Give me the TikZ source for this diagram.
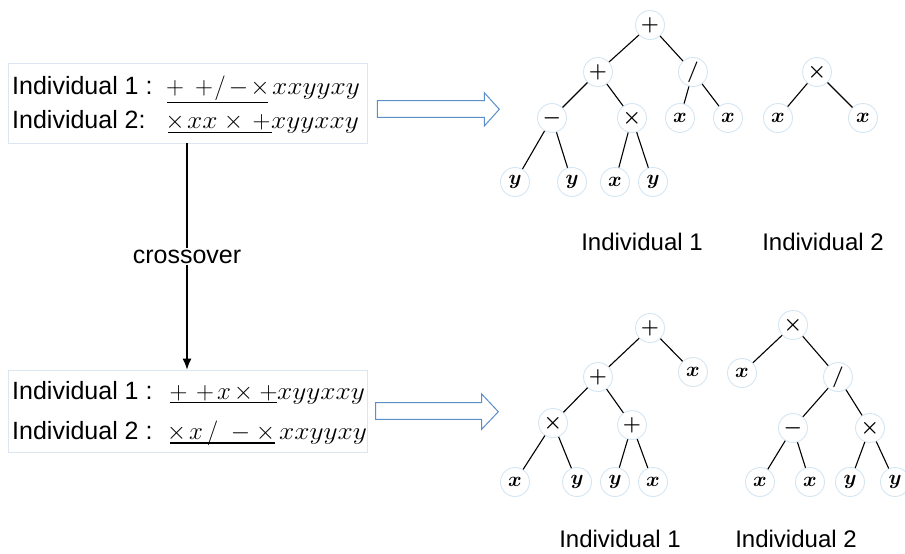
\documentclass[tikz,border=0pt]{standalone}
\usepackage{fontspec}
\setmainfont{Liberation Sans}
\usetikzlibrary{arrows.meta}
\definecolor{boxline}{HTML}{DCE6F0}
\definecolor{circline}{HTML}{D5E6F3}
\definecolor{arrowblue}{HTML}{5B8FCC}
\newcommand{\lettergrp}[1]{\scalebox{1.1}[1]{$#1$}}
\newcommand{\divop}{/}
\begin{document}
\begin{tikzpicture}[x=1pt,y=-1pt,
  tn/.style={circle,draw=circline,line width=0.9pt,minimum size=29pt,inner sep=0pt,fill=white,font=\fontsize{22}{24}\selectfont\boldmath},
  ed/.style={line width=1.1pt},
  lbl/.style={font=\fontsize{25}{28}\selectfont,inner sep=0pt,anchor=base west},
  tlbl/.style={font=\fontsize{24}{28}\selectfont,inner sep=0pt,anchor=base},
  frm/.style={font=\fontsize{25}{28}\selectfont,inner sep=0pt,anchor=base},
  frmw/.style={font=\fontsize{25}{28}\selectfont,inner sep=0pt,anchor=base west},
  hollow/.style={draw=arrowblue,line width=1pt,fill=white},
  ul/.style={line width=1.6pt}]
\useasboundingbox (0,0) rectangle (905,554);
\fill[white] (0,0) rectangle (905,554);

% boxes
\node[draw=boxline,line width=0.8pt,minimum width=359pt,minimum height=80pt,inner sep=0pt] (box1) at (187.5,103) {};
\node[draw=boxline,line width=0.8pt,minimum width=359pt,minimum height=82pt,inner sep=0pt] (box2) at (187.5,411) {};

% texts top
\node[lbl] (t11) at (12,94) {Individual 1\hspace{7pt}:};
\node[lbl] (t12) at (12,128) {Individual 2:};
\foreach \s/\xx [count=\i] in {+/175,+/204,\divop/220,-/238.5,\times/260}
  \node[frm] (f11-\i) at (\xx,94) {$\s$};
\node[frmw] (f11-l) at (272,94) {\lettergrp{xxyyxy}};
\foreach \s/\xx [count=\i] in {\times/175,\times/233.5,+/261.5}
  \node[frm] (f12-\i) at (\xx,128) {$\s$};
\node[frmw] (f12-a) at (187,128) {\lettergrp{xx}};
\node[frmw] (f12-l) at (271,128) {\lettergrp{xyyxxy}};
\draw[ul] (167,102.5) -- (268,102.5);
\draw[ul] (168,132.5) -- (272,132.5);

% texts bottom
\node[lbl] (t21) at (12,399) {Individual 1\hspace{7pt}:};
\node[lbl] (t22) at (12,439) {Individual 2\hspace{7pt}:};
\foreach \s/\xx [count=\i] in {+/178.5,+/205,x/224,\times/243.5,+/268.5}
  \node[frm] (f21-\i) at (\xx,399) {$\s$};
\node[frmw] (f21-l) at (277,399) {\lettergrp{xyyxxy}};
\foreach \s/\xx [count=\i] in {\times/176.5,x/196,\divop/212.5,-/240.5,\times/265.5}
  \node[frm] (f22-\i) at (\xx,439) {$\s$};
\node[frmw] (f22-l) at (279,439) {\lettergrp{xxyyxy}};
\draw[ul] (170,402.5) -- (277,402.5);
\draw[ul] (170,443) -- (275,443);

% crossover arrow
\draw[line width=1.1pt,-{Latex[length=11pt,width=9pt]}] (box1.south -| 187,0) -- node[fill=white,inner sep=2pt,font=\fontsize{25}{28}\selectfont] (co) {crossover} (box2.north -| 187,0);

% hollow arrows
\draw[hollow] (377.3,100.7) -- (484.3,100.7) -- (484.3,92.7) -- (499.3,109.3) -- (484.3,126) -- (484.3,117.3) -- (377.3,117.3) -- cycle;
\draw[hollow] (375.7,402.7) -- (481.7,402.7) -- (481.7,394) -- (498.3,411.7) -- (481.7,429.3) -- (481.7,419.3) -- (375.7,419.3) -- cycle;

% top tree individual 1
\node[tn] (a) at (650,25) {$+$};
\node[tn] (a1) at (598,72) {$+$};
\node[tn] (a2) at (693,72) {$/$};
\node[tn] (a11) at (552,118) {$-$};
\node[tn] (a12) at (632,118) {$\times$};
\node[tn] (a21) at (680,118) {$x$};
\node[tn] (a22) at (728,118) {$x$};
\node[tn] (a111) at (515,182) {$y$};
\node[tn] (a112) at (572,182) {$y$};
\node[tn] (a121) at (615,182) {$x$};
\node[tn] (a122) at (653,182) {$y$};
\foreach \p/\c in {a/a1,a/a2,a1/a11,a1/a12,a2/a21,a2/a22,a11/a111,a11/a112,a12/a121,a12/a122}
  \draw[ed] (\p) -- (\c);
% top tree individual 2
\node[tn] (b) at (817,72) {$\times$};
\node[tn] (b1) at (778,118) {$x$};
\node[tn] (b2) at (863,118) {$x$};
\draw[ed] (b) -- (b1);
\draw[ed] (b) -- (b2);

\node[tlbl] (l1) at (642,250) {Individual 1};
\node[tlbl] (l2) at (823,250) {Individual 2};

% bottom tree individual 1
\node[tn] (c) at (650,328) {$+$};
\node[tn] (c1) at (598,377) {$+$};
\node[tn] (c2) at (693,372) {$x$};
\node[tn] (c11) at (553,423) {$\times$};
\node[tn] (c12) at (632,425) {$+$};
\node[tn] (c111) at (515,482) {$x$};
\node[tn] (c112) at (577,482) {$y$};
\node[tn] (c121) at (615,482) {$y$};
\node[tn] (c122) at (653,482) {$x$};
\foreach \p/\c in {c/c1,c/c2,c1/c11,c1/c12,c11/c111,c11/c112,c12/c121,c12/c122}
  \draw[ed] (\p) -- (\c);
% bottom tree individual 2
\node[tn] (d) at (793,325) {$\times$};
\node[tn] (d1) at (742,373) {$x$};
\node[tn] (d2) at (838,377) {$/$};
\node[tn] (d21) at (793,428) {$-$};
\node[tn] (d22) at (870,428) {$\times$};
\node[tn] (d211) at (760,482) {$x$};
\node[tn] (d212) at (810,482) {$x$};
\node[tn] (d221) at (850,482) {$y$};
\node[tn] (d222) at (895,482) {$y$};
\foreach \p/\c in {d/d1,d/d2,d2/d21,d2/d22,d21/d211,d21/d212,d22/d221,d22/d222}
  \draw[ed] (\p) -- (\c);

\node[tlbl] (l3) at (620,547) {Individual 1};
\node[tlbl] (l4) at (796,547) {Individual 2};
\end{tikzpicture}
\end{document}
